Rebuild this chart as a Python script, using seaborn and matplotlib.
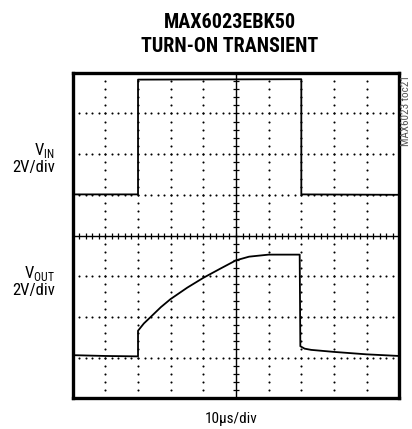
import numpy as np
import pandas as pd
import matplotlib
matplotlib.use("Agg")
import matplotlib.pyplot as plt
from matplotlib import font_manager
import seaborn as sns

# scope traces, in divisions (x: 0..10 div, y: 0..8 div)
vin_t = [0.0, 2.0, 2.0, 7.0, 7.0, 10.0]
vin_v = [5.01, 5.01, 7.83, 7.84, 5.01, 5.0]

vout_t = [0.0, 1.0, 2.0, 2.0, 2.18, 2.39, 2.7, 3.0, 3.51, 4.0, 4.53, 5.0,
          5.4, 6.0, 6.95, 6.97, 7.1, 7.3, 8.0, 9.0, 10.0]
vout_v = [1.06, 1.04, 1.03, 1.66, 1.84, 2.0, 2.24, 2.44, 2.72, 2.96, 3.19, 3.39,
          3.48, 3.53, 3.53, 1.28, 1.22, 1.19, 1.14, 1.08, 1.04]

title_lines = ["MAX6023EBK50", "TURN-ON TRANSIENT"]
x_label = "10µs/div"
ch_scale = "2V/div"
toc_id = "MAX6023 toc21"

sns.set_style("white")
fams = ["Liberation Sans Narrow", "Roboto Condensed", "Roboto", "DejaVu Sans"]
plt.rcParams['font.family'] = fams
plt.rcParams['text.color'] = 'black'
# mathtext (for the subscripts) in the same narrow face
_path = font_manager.findfont(font_manager.FontProperties(family=fams))
_name = font_manager.FontProperties(fname=_path).get_name()
plt.rcParams['mathtext.fontset'] = 'custom'
plt.rcParams['mathtext.rm'] = _name

W, H = 412, 429
fig = plt.figure(figsize=(W / 100, H / 100), dpi=100)
ax = fig.add_axes([72.7 / W, 1 - 398.3 / H, 326.6 / W, 325.6 / H])

ax.set_xlim(0, 10)
ax.set_ylim(0, 8)

# dotted graticule (dots every 0.2 div)
dots_x = np.arange(0, 10.001, 0.2)
dots_y = np.arange(0, 8.001, 0.2)
for k in range(1, 8):
    if k == 4:
        continue
    ax.plot(dots_x, np.full_like(dots_x, k), ls='none', marker='o', ms=1.5,
            color='black', mew=0)
for k in range(1, 10):
    if k == 5:
        continue
    ax.plot(np.full_like(dots_y, k), dots_y, ls='none', marker='o', ms=1.5,
            color='black', mew=0)

# centre axes with minor ticks
ax.axhline(4, color='black', lw=1.0)
ax.axvline(5, color='black', lw=1.0)
ax.plot(dots_x, np.full_like(dots_x, 4), ls='none', marker='|', ms=5,
        color='black', mew=0.9)
ax.plot(np.full_like(dots_y, 5), dots_y, ls='none', marker='_', ms=5,
        color='black', mew=0.9)

vin = pd.DataFrame({"t": vin_t, "v": vin_v})
vout = pd.DataFrame({"t": vout_t, "v": vout_v})
sns.lineplot(data=vin, x="t", y="v", ax=ax, sort=False, estimator=None,
             color='black', lw=1.3)
sns.lineplot(data=vout, x="t", y="v", ax=ax, sort=False, estimator=None,
             color='black', lw=1.3)

ax.set_xticks([])
ax.set_yticks([])
ax.set_xlabel("")
ax.set_ylabel("")
for s in ax.spines.values():
    s.set_visible(True)
    s.set_color('black')
    s.set_linewidth(2.4)


def px(x, y):
    return x / W, 1 - y / H


fig.text(*px(230, 28), title_lines[0], ha='center', va='baseline',
         fontsize=14.5, fontweight='bold')
fig.text(*px(230, 52), title_lines[1], ha='center', va='baseline',
         fontsize=14.5, fontweight='bold')

# channel labels: one two-line text each
fig.text(*px(55, 158), 'V$_{\\mathrm{IN}}$\n' + ch_scale, ha='right', va='center',
         multialignment='right', fontsize=12, linespacing=1.0)
fig.text(*px(55, 281), 'V$_{\\mathrm{OUT}}$\n' + ch_scale, ha='right', va='center',
         multialignment='right', fontsize=12, linespacing=1.0)

fig.text(*px(231, 423), x_label, ha='center', va='baseline', fontsize=11)
fig.text(*px(406, 111), toc_id, ha='center', va='center', rotation=90,
         fontsize=8, color='#555555')

fig.savefig("out.png", dpi=100)
